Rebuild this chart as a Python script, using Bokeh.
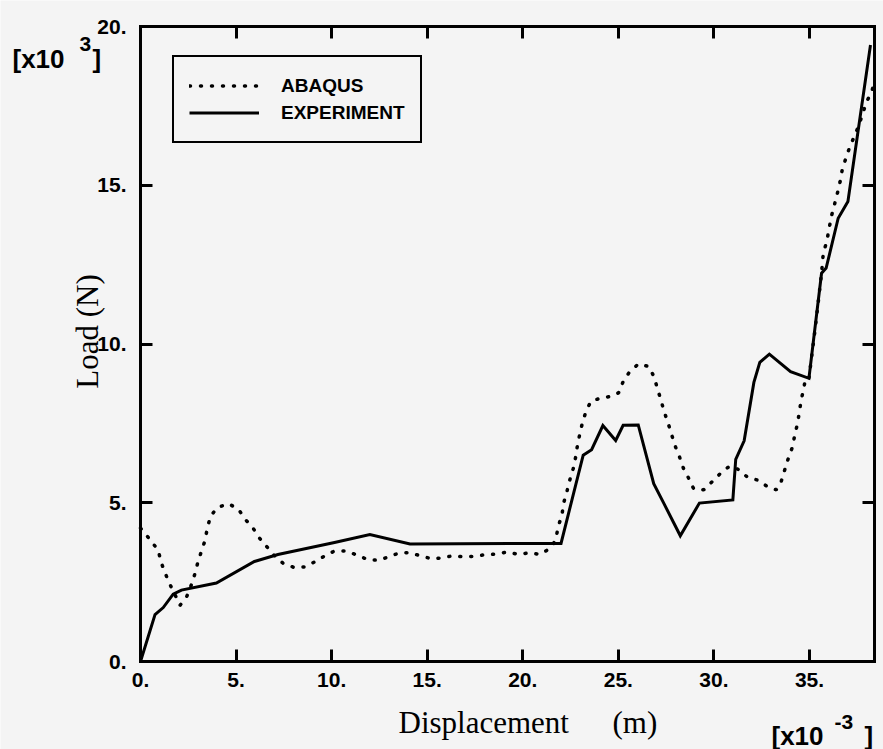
import math
from bokeh.plotting import figure
from bokeh.models import LinearAxis, FixedTicker, Legend, LegendItem, Label
from bokeh.embed import file_html
from bokeh.resources import INLINE

# ---------------- data (displacement in 1e-3 m, load in 1e3 N) ----------------
exp_x = [0, 0.76, 1.19, 1.71, 2.14, 3.97, 5.96, 7.19, 10.15, 12.0, 14.1, 22.0,
         23.16, 23.6, 24.19, 24.86, 25.25, 26.04, 26.85, 27.38, 28.24, 29.24,
         30.99, 31.14, 31.58, 32.09, 32.4, 32.9, 34.01, 34.97, 35.63, 35.87,
         36.5, 37.01, 38.19]
exp_y = [0, 1.48, 1.7, 2.12, 2.25, 2.47, 3.15, 3.37, 3.75, 4.0, 3.7, 3.72,
         6.5, 6.67, 7.43, 6.96, 7.44, 7.45, 5.6, 4.98, 3.96, 4.99,
         5.09, 6.37, 6.95, 8.79, 9.42, 9.68, 9.13, 8.92, 12.23, 12.39,
         13.96, 14.49, 19.42]

abq_x = [0, 0.5, 0.93, 1.07, 1.28, 1.5, 2.07, 2.42, 2.64, 2.84, 3.0, 3.18, 3.38,
         3.5, 3.67, 4.02, 4.6, 5.12, 5.47, 5.86, 6.18, 6.6, 7.0, 7.45, 8.04,
         8.6, 9.12, 9.65, 10.15, 10.8, 11.4, 11.93, 12.5, 13.03, 13.55, 14.08,
         14.64, 15.25, 15.83, 16.35, 16.9, 17.44, 18.0, 18.55, 19.2, 19.8,
         20.37, 20.9, 21.42, 21.72, 21.85, 22.05, 22.13, 22.3, 22.44, 22.64,
         22.77, 22.85, 22.97, 23.1, 23.3, 23.56, 24.08, 24.61, 25.01, 25.24,
         25.55, 26.04, 26.6, 26.87, 27.04, 27.23, 27.4, 27.58, 27.77, 27.95,
         28.19, 28.4, 28.67, 28.94, 29.47, 29.92, 30.37, 30.81, 31.24, 31.77,
         32.3, 32.82, 33.26, 33.52, 33.69, 33.87, 34.08, 34.21, 34.35, 34.46,
         34.55, 34.68, 34.8, 34.97, 35.3, 35.63, 35.72, 35.9, 36.02, 36.14,
         36.31, 36.48, 36.6, 36.71, 36.9, 37.08, 37.59, 37.98, 38.25, 38.4]
abq_y = [4.2, 3.84, 3.5, 3.14, 2.8, 2.48, 1.77, 2.05, 2.38, 2.75, 3.12, 3.46, 3.82,
         4.22, 4.58, 4.85, 4.97, 4.8, 4.48, 4.23, 3.92, 3.62, 3.34, 3.1, 2.96,
         2.98, 3.14, 3.33, 3.48, 3.48, 3.33, 3.2, 3.19, 3.31, 3.42, 3.43,
         3.33, 3.23, 3.27, 3.33, 3.3, 3.31, 3.36, 3.38, 3.45, 3.37,
         3.43, 3.37, 3.56, 3.82, 4.25, 4.61, 4.98, 5.33, 5.68, 6.08,
         6.45, 6.77, 7.13, 7.47, 7.87, 8.19, 8.3, 8.35, 8.46, 8.8,
         9.09, 9.37, 9.29, 8.96, 8.6, 8.23, 7.86, 7.55, 7.18, 6.82,
         6.46, 6.09, 5.78, 5.44, 5.41, 5.67, 5.94, 6.15, 6.06, 5.8,
         5.71, 5.5, 5.41, 5.67, 6.01, 6.36, 6.71, 7.07, 7.44, 7.81,
         8.19, 8.55, 8.93, 8.92, 10.5, 12.23, 12.86, 13.22, 13.62, 14.01,
         14.4, 14.8, 15.11, 15.48, 15.85, 16.16, 16.9, 17.62, 17.94, 18.25]

x_ticks = [0, 5, 10, 15, 20, 25, 30, 35]
x_tick_labels = ["0.", "5.", "10.", "15.", "20.", "25.", "30.", "35."]
y_ticks = [0, 5, 10, 15, 20]
y_tick_labels = ["0.", "5.", "10.", "15.", "20."]
x_lim = (0, 38.4)
y_lim = (0, 20)

series_names = ["ABAQUS", "EXPERIMENT"]

BG = "#f4f4f4"
SANS = "Liberation Sans"
SERIF = "Liberation Serif"

W, H = 883, 749
# pixel box of the data area inside the canvas
FL, FR, FT, FB = 140, 874, 26, 661
sx = (FR - FL) / (x_lim[1] - x_lim[0])
sy = (FB - FT) / (y_lim[1] - y_lim[0])
x_start = x_lim[0] - FL / sx
x_end = x_lim[1] + (W - FR) / sx
y_start = y_lim[0] - (H - FB) / sy
y_end = y_lim[1] + FT / sy

p = figure(width=W, height=H, x_range=(x_start, x_end), y_range=(y_start, y_end),
           output_backend="svg", toolbar_location=None,
           min_border=0, min_border_left=0, min_border_right=0,
           min_border_top=0, min_border_bottom=0,
           x_axis_type=None, y_axis_type=None,
           background_fill_color=BG, border_fill_color=BG)
p.xgrid.visible = False
p.ygrid.visible = False
p.outline_line_color = None


def make_axis(ticks, labels, loc, bounds, show_labels, standoff):
    ax = LinearAxis(fixed_location=loc, bounds=bounds)
    ax.ticker = FixedTicker(ticks=ticks)
    ax.major_label_overrides = {t: l for t, l in zip(ticks, labels)}
    ax.major_tick_in = 12
    ax.major_tick_out = 0
    ax.minor_tick_in = 0
    ax.minor_tick_out = 0
    ax.axis_line_width = 3
    ax.axis_line_color = "black"
    ax.axis_line_cap = "square"
    ax.major_tick_line_width = 3
    ax.major_tick_line_color = "black"
    ax.major_label_standoff = standoff
    ax.major_label_text_font = SANS
    ax.major_label_text_font_style = "bold"
    ax.major_label_text_font_size = "21px"
    ax.major_label_text_color = "black" if show_labels else None
    return ax


p.add_layout(make_axis(x_ticks, x_tick_labels, y_lim[0], x_lim, True, 11), "below")
p.add_layout(make_axis(x_ticks, x_tick_labels, y_lim[1], x_lim, False, 0), "above")
p.add_layout(make_axis(y_ticks, y_tick_labels, x_lim[0], y_lim, True, 14), "left")
p.add_layout(make_axis(y_ticks, y_tick_labels, x_lim[1], y_lim, False, 0), "right")

r_abq = p.line(abq_x, abq_y, line_color="black", line_width=3.5,
               line_dash="1 10", line_cap="round")
r_exp = p.line(exp_x, exp_y, line_color="black", line_width=3,
               line_join="miter")

legend = Legend(items=[LegendItem(label=series_names[0], renderers=[r_abq]),
                       LegendItem(label=series_names[1], renderers=[r_exp])],
                location=(172, H - 143))
legend.border_line_color = "black"
legend.border_line_alpha = 1
legend.border_line_width = 2.5
legend.background_fill_color = BG
legend.background_fill_alpha = 1
legend.label_text_font = SANS
legend.label_text_font_style = "bold"
legend.label_text_font_size = "19px"
legend.label_text_color = "black"
legend.glyph_width = 70
legend.glyph_height = 27
legend.label_height = 27
legend.label_standoff = 22
legend.padding = 15
legend.spacing = 0
legend.margin = 0
p.add_layout(legend)


def dx(px):
    return x_start + px / sx


def dy(py):
    return y_end - py / sy


texts = [
    # y multiplier
    dict(x=dx(12), y=dy(58), text="[x10", size="26px"),
    dict(x=dx(79), y=dy(43), text="3", size="21px"),
    dict(x=dx(92), y=dy(58), text="]", size="26px"),
    # x multiplier
    dict(x=dx(771), y=dy(735), text="[x10", size="26px"),
    dict(x=dx(834), y=dy(721), text="-3", size="21px"),
    dict(x=dx(864), y=dy(735), text="]", size="26px"),
]
for t in texts:
    p.add_layout(Label(x=t["x"], y=t["y"], text=t["text"], text_font=SANS,
                       text_font_size=t["size"], text_font_style="bold",
                       text_align="left", text_baseline="middle",
                       text_color="black"))

# axis titles
p.add_layout(Label(x=dx(398), y=dy(722), text="Displacement", text_font=SERIF,
                   text_font_size="31px", text_align="left",
                   text_baseline="middle", text_color="black"))
p.add_layout(Label(x=dx(612), y=dy(722), text="(m)", text_font=SERIF,
                   text_font_size="31px", text_align="left",
                   text_baseline="middle", text_color="black"))
p.add_layout(Label(x=dx(87), y=dy(331), text="Load (N)", text_font=SERIF,
                   text_font_size="31px", text_align="center",
                   text_baseline="middle", angle=math.pi / 2,
                   text_color="black"))

open("out.html", "w").write(file_html(p, INLINE))
